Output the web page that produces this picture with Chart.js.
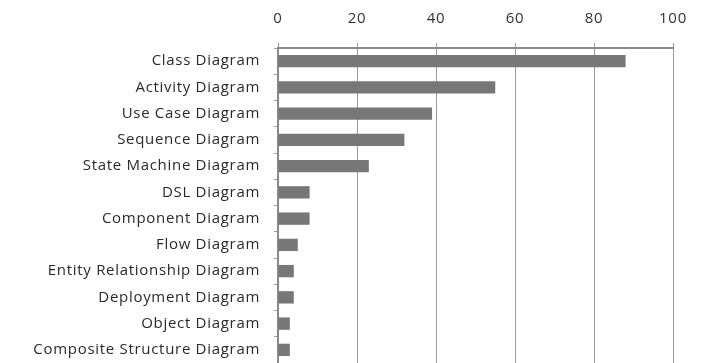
<!DOCTYPE html>
<html>
<head>
<meta charset="utf-8">
<script src="https://cdn.jsdelivr.net/npm/chart.js@4/dist/chart.umd.min.js"></script>
<style>
  html, body { margin: 0; padding: 0; background: #ffffff; overflow: hidden; }
  #wrap { width: 706px; height: 386px; position: relative; }
</style>
</head>
<body>
<div id="wrap"><canvas id="chart"></canvas></div>
<script>
// Diagram types and how often each one appears
const categories = [
  'Class Diagram',
  'Activity Diagram',
  'Use Case Diagram',
  'Sequence Diagram',
  'State Machine Diagram',
  'DSL Diagram',
  'Component Diagram',
  'Flow Diagram',
  'Entity Relationship Diagram',
  'Deployment Diagram',
  'Object Diagram',
  'Composite Structure Diagram'
];
const counts = [88, 55, 39, 32, 23, 8, 8, 5, 4, 4, 3, 3];
const xTicks = [0, 20, 40, 60, 80, 100];

const FONT = "'Open Sans', 'DejaVu Sans', sans-serif";

// Slightly looser letter spacing for all chart text
const spacing = {
  id: 'spacing',
  beforeDraw(chart) { chart.ctx.letterSpacing = '0.7px'; }
};

new Chart(document.getElementById('chart'), {
  type: 'bar',
  data: {
    labels: categories,
    datasets: [{
      data: counts,
      backgroundColor: '#777777',
      borderWidth: 0,
      categoryPercentage: 1.0,
      barPercentage: 0.47
    }]
  },
  plugins: [spacing],
  options: {
    indexAxis: 'y',
    responsive: true,
    maintainAspectRatio: false,
    animation: false,
    layout: { padding: { left: 0, right: 33, top: 0, bottom: 0 } },
    plugins: { legend: { display: false }, tooltip: { enabled: false } },
    scales: {
      x: {
        position: 'top',
        min: 0,
        max: 100,
        afterBuildTicks: (scale) => { scale.ticks = xTicks.map(v => ({ value: v })); },
        afterFit: (scale) => { scale.height = 48; },
        ticks: {
          color: '#333333',
          font: { family: FONT, size: 15 },
          padding: 15
        },
        grid: {
          color: '#9a9a9a',
          lineWidth: 1,
          tickLength: 5,
          tickColor: '#9a9a9a'
        },
        border: { color: '#8a8a8a', width: 2 }
      },
      y: {
        afterFit: (scale) => { scale.width = 278; },
        ticks: {
          color: '#2a2a2a',
          font: { family: FONT, size: 15 },
          padding: 14,
          autoSkip: false
        },
        grid: {
          drawOnChartArea: false,
          tickLength: 4,
          tickColor: '#9a9a9a'
        },
        border: { color: '#8a8a8a', width: 2 }
      }
    }
  }
});
</script>
</body>
</html>
